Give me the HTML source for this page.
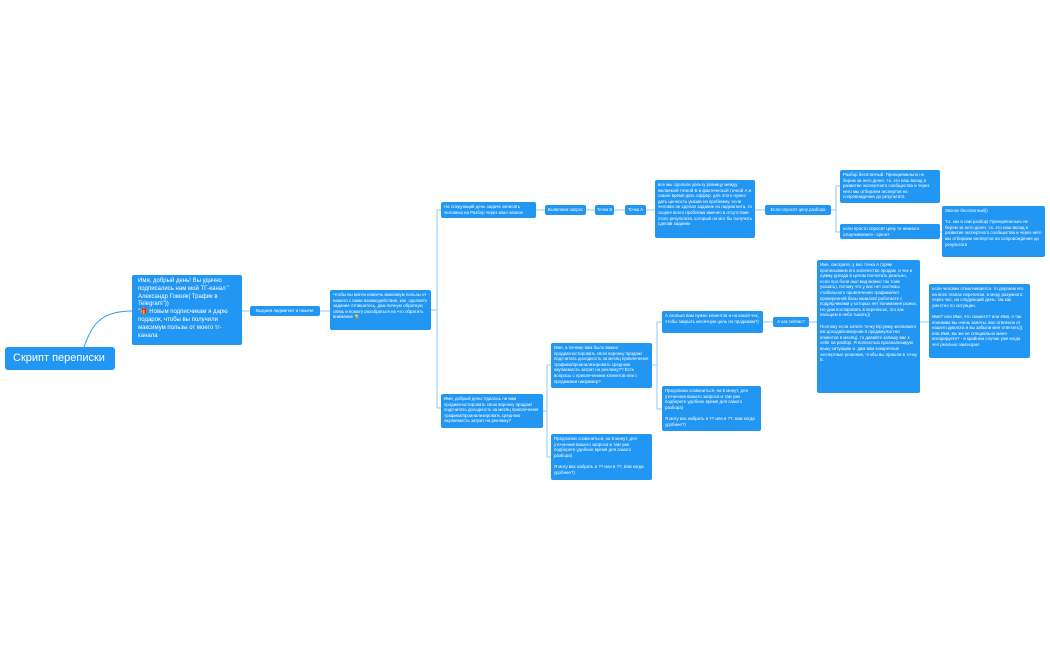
<!DOCTYPE html>
<html><head><meta charset="utf-8"><style>
html,body{margin:0;padding:0;width:1050px;height:650px;background:#fff;overflow:hidden}
.n{position:absolute;background:#2196f3;color:#fff;border-radius:2px;font-family:"Liberation Sans","Noto Sans CJK SC",sans-serif;font-size:4.4px;line-height:5.6px;padding:2px 3px;box-sizing:border-box;white-space:pre-wrap;overflow:hidden}
.s{white-space:nowrap;padding:0 2px;line-height:10px;text-align:center;font-size:4.3px}
svg{position:absolute;left:0;top:0}
</style></head><body>
<svg width="1050" height="650" fill="none" stroke="#8cc8fb" stroke-width="1">
<path d="M84 347 C 92 325, 100 311, 132 311" stroke="#3c9af0"/>
<path d="M242 311 H250 M320 311 H330 M431 310 H437 M437 210 V408 M437 210 H441 M437 408 H441"/>
<path d="M536 210 H545 M586 210 H595 M614 210 H625 M646 210 H655 M755 210 H765 M831 210 H836 M836 186 V232 M836 186 H840 M836 232 H840 M940 232 H942"/>
<path d="M543 411 H547 M547 365 V457 M547 365 H551 M547 457 H551 M652 365 H657 M657 322 V409 M657 322 H662 M657 409 H662 M763 322 H773 M809 322 H817 M920 322 H929"/>
</svg>
<div class="n" style="left:5px;top:347px;width:110px;height:23px;font-size:11px;line-height:23px;padding:0 8px;border-radius:3px;white-space:nowrap">Скрипт переписки</div>
<div class="n" style="left:132px;top:275px;width:110px;height:70px;font-size:6px;line-height:7.8px;padding:3px 6px">Имя, добрый день! Вы удачно подписались нам мой ТГ-канал " Александр Гомзяк| Трафик в Telegram"))
"🎁 Новым подписчикам я дарю подарок, чтобы вы получили максимум пользы от моего тг-канала</div>
<div class="n s" style="left:250px;top:306px;width:70px;height:10px">Выдаем лидмагнит и пишем:</div>
<div class="n" style="left:330px;top:290px;width:101px;height:40px">Чтобы вы могли извлечь максимум пользы от нашего с вами взаимодействия, как  сделаете задание отпишитесь, дам личную обратную связь и помогу разобраться на что обратить внимание 👇</div>
<div class="n" style="left:441px;top:202px;width:95px;height:16px">На следующий день задача записать человека на Разбор через квал-звонок</div>
<div class="n s" style="left:545px;top:205px;width:41px;height:10px">Выявляем запрос</div>
<div class="n s" style="left:595px;top:205px;width:19px;height:10px">Точка Б</div>
<div class="n s" style="left:625px;top:205px;width:21px;height:10px">Точка А</div>
<div class="n" style="left:655px;top:180px;width:100px;height:58px">все мы сделали дельту разницу между желаемой точкой Б и фактической точкой А и самое время дать оффер. для этого нужно дать ценность указав на пробемму. если человек не сделал задание из лидмагнита, то скорее всего проблема именно в отсутствии этого результата, который он мог бы получить сделав задание</div>
<div class="n s" style="left:765px;top:205px;width:66px;height:10px">Если спросят цену разбора</div>
<div class="n" style="left:840px;top:170px;width:100px;height:33px">Разбор бесплатный. Принципиально не берем за него денег, т.к. это наш вклад в развитие экспертного сообщества и через него мы отбираем экспертов на сопровождение до результата</div>
<div class="n" style="left:840px;top:224px;width:100px;height:15px">если просто спросят цену то немного отшучиваемся - Цена?</div>
<div class="n" style="left:942px;top:206px;width:103px;height:51px">Звонок бесплатный))

Т.к. как и сам разбор| Принципиально не берем за него денег, т.к. это наш вклад в развитие экспертного сообщества и через него мы отбираем экспертов на сопровождение до результата</div>
<div class="n" style="left:817px;top:260px;width:103px;height:133px">Имя, смотрите, у вас точка А (прям прописываем его количество продаж  и чек и сумму дохода в целом посчитать реально, если про боли ныл вид можно так тоже указать), потому что у вас нет системы стабильного привлечения трафика/нет проверенной базы каналов/ работаете с подрядчиками у которых нет понимания рынка.
Но диагностировать в переписке, это как пальцем в небо тыкать))

Поэтому если хотите точку Б(сумму желаемого им дохода/конверсии в продажу/кол-во клиентов в месяц), то давайте запишу вас к себе на разбор. Я полностью проанализирую вашу ситуацию и  дам вам конкретные экспертные решения, чтобы вы пришли в точку Б.</div>
<div class="n" style="left:929px;top:284px;width:101px;height:74px">если человек отмалчивается. то дергаем его на всех этапах переписки. в меру разумного. через час, на следующий день. так как уместно по ситуации.

Имя? или Имя, что скажете? или Имя, я так понимаю вы очень заняты, вас отвлекли от нашего диалога и вы забыли мне ответить)) или Имя, вы же не специально меня игнорируете? - в крайнем случае уже когда чел реально заигнорил</div>
<div class="n" style="left:441px;top:394px;width:102px;height:34px">Имя, добрый день! Удалось ли вам продиагностировать свою воронку продаж/подсчитать доходность за месяц привлечения трафика/проанализировать среднюю окупаемость затрат на рекламу?</div>
<div class="n" style="left:551px;top:343px;width:101px;height:45px">Имя, а почему вам было важно продиагностировать свою воронку продаж/подсчитать доходность за месяц привлечения трафика/проанализировать среднюю окупаемость затрат на рекламу?? Есть вопросы с привлечением клиентов или с продажами например?</div>
<div class="n" style="left:551px;top:434px;width:101px;height:46px">Предлагаю созвониться, на 5 минут, для уточнения вашего запроса и там уже подберете удобное время для самого разбора)

Я могу вас набрать в ?? или в ??, вам когда удобнее?)</div>
<div class="n" style="left:662px;top:311px;width:101px;height:22px">А сколько вам нужно клиентов и на какой чек, чтобы закрыть месячную цель по продажам?)</div>
<div class="n s" style="left:773px;top:317px;width:36px;height:10px">А как сейчас?</div>
<div class="n" style="left:662px;top:386px;width:99px;height:45px">Предлагаю созвониться, на 5 минут, для уточнения вашего запроса и там уже подберете удобное время для самого разбора)

Я могу вас набрать в ?? или в ??, вам когда удобнее?)</div>
</body></html>
